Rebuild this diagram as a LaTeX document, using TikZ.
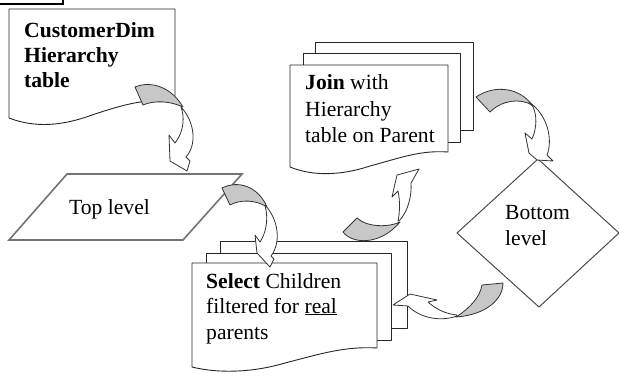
\documentclass[tikz,border=0pt]{standalone}
\usepackage{fontspec}
\setmainfont{Liberation Serif}
\tikzset{
  txt/.style={anchor=base west, inner sep=0pt, font=\fontsize{21.6}{25}\selectfont},
  page/.style={draw=black!85, fill=white, line width=0.9pt, line join=round},
  para/.style={draw=black!55, fill=white, line width=1.6pt},
  diam/.style={draw=black!70, fill=white, line width=1pt},
  arrback/.style={draw=black!80, fill=black!22, line width=0.8pt, line join=round},
  arrfront/.style={draw=black!80, fill=white, line width=0.8pt, line join=round},
}
\begin{document}
\begin{tikzpicture}[x=1pt,y=-1pt]
\useasboundingbox (0,0) rectangle (619,376);
\clip (0,0) rectangle (619,376);
% top-left box
\draw[line width=1.5pt] (-5,-5) rectangle (63,4);
% CustomerDim document
\path[page] (9,9) -- (175,9) -- (175,103) .. controls (150,97) and (125,104) .. (92,115) .. controls (62,126) and (35,128) .. (9,118) -- cycle;
% Top level parallelogram
\path[para] (67,174) -- (242,174) -- (183,240) -- (9,240) -- cycle;
% Join stack
\path[page] (315,42) rectangle (473,130);
\path[page] (303,53) rectangle (460,142);
\path[page] (290,65) -- (448,65) -- (448,152) .. controls (420,150) and (400,158) .. (370,166) .. controls (340,176) and (312,176) .. (290,167) -- cycle;
% Select stack
\path[page] (220,241) rectangle (407,328);
\path[page] (206,253) rectangle (391,340);
\path[page] (192,263) -- (377,263) -- (377,348) .. controls (345,346) and (320,354) .. (285,363) .. controls (255,372) and (220,374) .. (192,367) -- cycle;
% Bottom level diamond
\path[diam] (538,159) -- (619,233) -- (539,307) -- (457,233) -- cycle;
% texts
\node[txt] (c1) at (24,37) {\bfseries CustomerDim};
\node[txt] (c2) at (24,62) {\bfseries Hierarchy};
\node[txt] (c3) at (24,87) {\bfseries table};
\node[txt] (tl) at (69,214) {Top level};
\node[txt] (j1) at (305,89) {\textbf{Join} with};
\node[txt] (j2) at (305,116) {Hierarchy};
\node[txt] (j3) at (305,142) {table on Parent};
\node[txt] (s1) at (206,288) {\textbf{Select} Children};
\node[txt] (s2) at (206,313) {filtered for \underline{real}};
\node[txt] (s3) at (206,339) {parents};
\node[txt] (b1) at (505,219) {Bottom};
\node[txt] (b2) at (505,245) {level};
% arrow 1
\path[arrback] (135,87) .. controls (152,80) and (172,88) .. (183,107) .. controls (170,101) and (155,100) .. (143,105) -- cycle;
\path[arrfront] (181,107) .. controls (195,122) and (197,145) .. (186,157) -- (190,161) -- (187,171) -- (170,161) -- (169,135) -- (175,143) .. controls (182,134) and (185,122) .. (182,110) -- cycle;
% arrow 2
\path[arrback] (222,188) .. controls (238,180) and (258,186) .. (267,207) .. controls (256,200) and (241,199) .. (230,205) -- cycle;
\path[arrfront] (265,205) .. controls (279,220) and (281,243) .. (271,256) -- (274,259) -- (270,267) -- (257,253) -- (255,235) -- (260,242) .. controls (266,233) and (268,220) .. (266,210) -- cycle;
% arrow 3
\path[arrback] (476,97) .. controls (495,84) and (520,88) .. (532,105) .. controls (520,98) and (502,100) .. (490,112) -- cycle;
\path[arrfront] (529,102) .. controls (548,115) and (553,140) .. (547,155) -- (553,161) -- (537,160) -- (529,153) -- (525,133) -- (532,139) .. controls (537,128) and (537,115) .. (533,107) -- cycle;
% arrow 4
\path[arrback] (482,285) -- (503,283) .. controls (503,300) and (485,315) .. (456,317) .. controls (470,308) and (480,297) .. (482,285) -- cycle;
\path[arrfront] (457,316) .. controls (440,322) and (420,318) .. (408,306) -- (393,305) -- (410,294) -- (437,300) -- (428,302) .. controls (438,311) and (448,314) .. (457,315) -- cycle;
% arrow 5
\path[arrback] (343,232) .. controls (352,244) and (380,246) .. (400,222) .. controls (390,227) and (368,228) .. (357,218) -- cycle;
\path[arrfront] (399,221) .. controls (408,212) and (412,195) .. (411,183) -- (419,169) -- (397,175) -- (392,197) -- (398,191) .. controls (400,200) and (400,212) .. (398,221) -- cycle;
\end{tikzpicture}
\end{document}
